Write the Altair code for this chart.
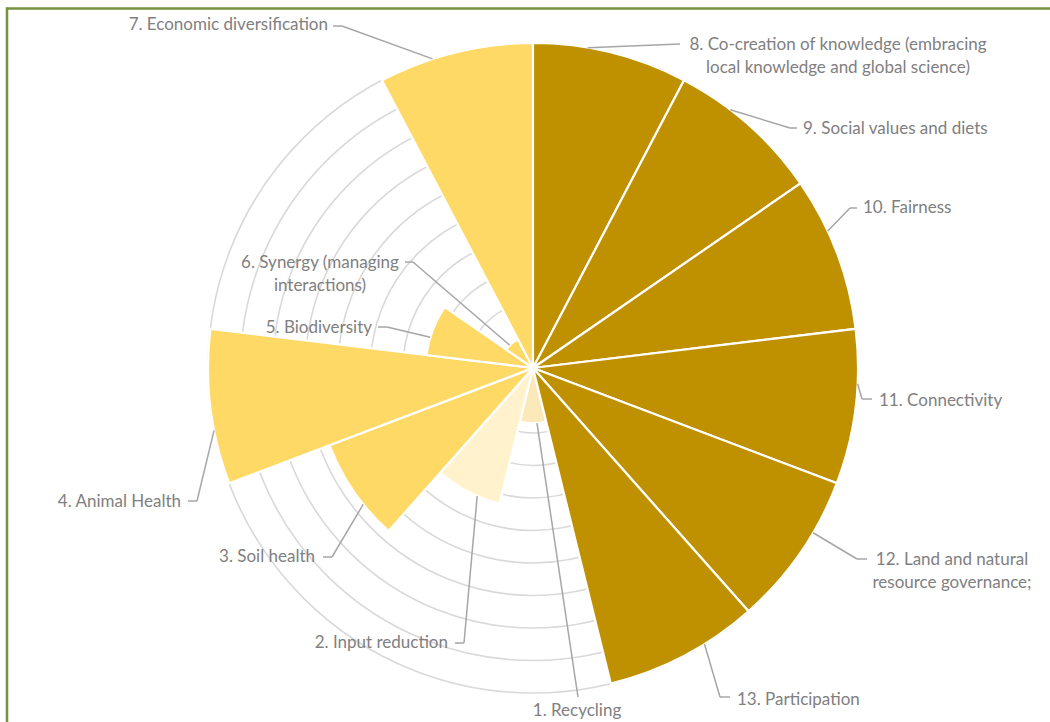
import math
import altair as alt
import pandas as pd

# ---------------- data ----------------
labels = [
    "1. Recycling",
    "2. Input reduction",
    "3. Soil health",
    "4. Animal Health",
    "5. Biodiversity",
    "6. Synergy (managing\ninteractions)",
    "7. Economic diversification",
    "8. Co-creation of knowledge (embracing\nlocal knowledge and global science)",
    "9. Social values and diets",
    "10. Fairness",
    "11. Connectivity",
    "12. Land and natural\nresource governance;",
    "13. Participation",
]
values = [1.7, 4.3, 6.7, 10, 3.3, 1.0, 10, 10, 10, 10, 10, 10, 10]
# clockwise position from 12 o'clock (item 8 starts at the top)
positions = [6, 7, 8, 9, 10, 11, 12, 0, 1, 2, 3, 4, 5]
ring_levels = [1, 2, 3, 4, 5, 6, 7, 8, 9, 10]

# ---------------- styles / layout ----------------
slice_colors = ["#FCE9B9", "#FFF2CC", "#FFD966", "#FFD966", "#FFD966", "#FFD966",
                "#FFD966", "#BF9000", "#BF9000", "#BF9000", "#BF9000", "#BF9000", "#BF9000"]
N = len(labels)
K = 32.5              # pixels per value unit
CX, CY = 533, 368     # pixel centre of the rose
W, H = 1050, 722
LEADER_FRAC = 0.35    # where along the slice the leader line starts

# label layout in pixel offsets from the centre (screen y down):
# (text_dx, text_dy, align, elbow_dx, elbow_dy, end_dx, end_dy)
label_layout = [
    (44, 343, "center", 45, 329, 45, 329),
    (-85, 275, "right", -69, 275, -78, 275),
    (-218, 189, "right", -201, 189, -210, 189),
    (-352, 134, "right", -336, 133, -345, 133),
    (-161, -40, "right", -146, -41, -155, -41),
    (-213, -105, "center", -120, -106, -128, -106),
    (-205, -343, "right", -191, -342, -200, -342),
    (305, -323, "center", 147, -324, 147, -324),
    (270, -239, "left", 257, -240, 264, -240),
    (330, -160, "left", 317, -160, 324, -160),
    (346, 33, "left", 329, 31, 339, 31),
    (419, 192, "center", 324, 191, 334, 191),
    (204, 332, "left", 187, 329, 197, 329),
]

slices = pd.DataFrame({
    "label": labels,
    "value": values,
    "t0": positions,
    "t1": [p + 1 for p in positions],
    "color": slice_colors,
    "cx": 0.0,
    "cy": 0.0,
})
rings = pd.DataFrame({"ring": ring_levels, "cx": 0.0, "cy": 0.0})

seg_rows = []
text_rows = []
for lab, val, pos, lay in zip(labels, values, positions, label_layout):
    tdx, tdy, align, ex, ey, nx, ny = lay
    ang = (pos + LEADER_FRAC) * 2 * math.pi / N
    sx, sy = val * math.sin(ang), val * math.cos(ang)
    seg_rows.append({"x": sx, "y": sy, "x2": ex / K, "y2": -ey / K})
    seg_rows.append({"x": ex / K, "y": -ey / K, "x2": nx / K, "y2": -ny / K})
    text_rows.append({"label": lab, "lx": tdx / K, "ly": -tdy / K, "align": align})
segs = pd.DataFrame(seg_rows)
texts = pd.DataFrame(text_rows)

xs = alt.Scale(domain=[-CX / K, (W - CX) / K], nice=False, zero=False)
ys = alt.Scale(domain=[-(H - CY) / K, CY / K], nice=False, zero=False)
rs = alt.Scale(domain=[0, 10], range=[0, 10 * K], zero=True, nice=False)
ts = alt.Scale(domain=[0, N], range=[0, 2 * math.pi])

ring_layer = alt.Chart(rings).mark_arc(
    theta=0, theta2=2 * math.pi, filled=False, stroke="#D9D9D9", strokeWidth=1.6
).encode(
    x=alt.X("cx:Q", scale=xs, axis=None),
    y=alt.Y("cy:Q", scale=ys, axis=None),
    radius=alt.Radius("ring:Q", scale=rs, stack=None),
)

slice_layer = alt.Chart(slices).mark_arc(stroke="white", strokeWidth=2.2).encode(
    x=alt.X("cx:Q", scale=xs, axis=None),
    y=alt.Y("cy:Q", scale=ys, axis=None),
    theta=alt.Theta("t0:Q", scale=ts, stack=None),
    theta2="t1:Q",
    radius=alt.Radius("value:Q", scale=rs, stack=None),
    color=alt.Color("color:N", scale=None),
)

leader_layer = alt.Chart(segs).mark_rule(color="#A6A6A6", strokeWidth=1.5).encode(
    x=alt.X("x:Q", scale=xs, axis=None),
    y=alt.Y("y:Q", scale=ys, axis=None),
    x2="x2:Q",
    y2="y2:Q",
)

text_layers = []
for al in ["left", "right", "center"]:
    text_layers.append(
        alt.Chart(texts[texts["align"] == al]).mark_text(
            align=al, baseline="middle", font="Lato", fontSize=17,
            color="#808080", lineBreak="\n", lineHeight=23,
        ).encode(
            x=alt.X("lx:Q", scale=xs, axis=None),
            y=alt.Y("ly:Q", scale=ys, axis=None),
            text="label:N",
        )
    )

frame_df = pd.DataFrame({"k": [0]})
frame_top = alt.Chart(frame_df).mark_rule(color="#76923C", strokeWidth=2.5).encode(
    x=alt.value(6), x2=alt.value(W), y=alt.value(8.5)
)
frame_left = alt.Chart(frame_df).mark_rule(color="#76923C", strokeWidth=2.5).encode(
    x=alt.value(7), y=alt.value(7.5), y2=alt.value(H)
)

chart = alt.layer(
    ring_layer, slice_layer, leader_layer, *text_layers, frame_top, frame_left
).properties(
    width=W, height=H, padding=0,
    autosize=alt.AutoSizeParams(type="none"),
    background="white",
).configure_view(stroke=None)

chart.save("out.html", embed_options={"renderer": "svg", "actions": False})
